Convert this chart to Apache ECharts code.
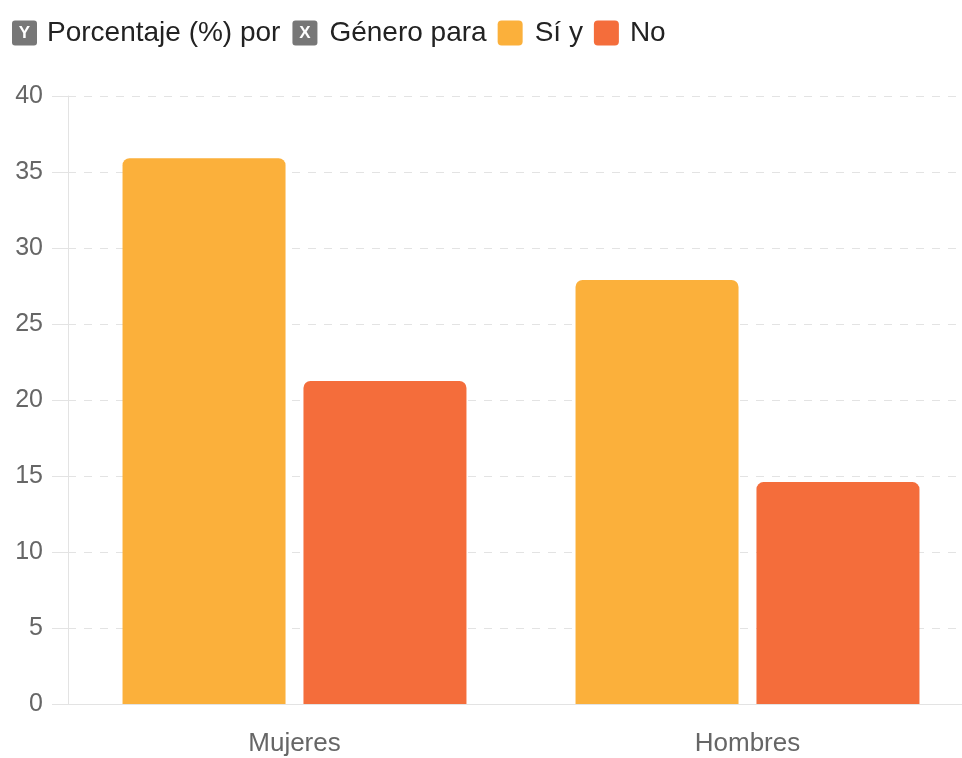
<!DOCTYPE html>
<html><head><meta charset="utf-8">
<script src="https://cdn.jsdelivr.net/npm/echarts@6/dist/echarts.min.js"></script>
<style>html,body{margin:0;padding:0;background:#fff;overflow:hidden;width:962px;height:758px}#c{width:974px;height:758px}</style>
</head><body><div id="c"></div>
<script>
const categories = ['Mujeres', 'Hombres'];
const siValues = [35.9, 27.9];
const noValues = [21.25, 14.6];
const seriesNames = ['Sí', 'No'];

const chart = echarts.init(document.getElementById('c'));
const font = '"Liberation Sans", Arial, sans-serif';
const badge = {backgroundColor: '#777', color: '#fff', fontSize: 17, fontWeight: 'bold', width: 25, height: 25, align: 'center', borderRadius: 3, lineHeight: 25, fontFamily: font};
chart.setOption({
  animation: false,
  title: {
    left: 7, top: 14,
    text: '{yb|Y}{sp0|}{t|Porcentaje (%) por}{sp|}{xb|X}{sp|}{t|Género para}{sp2|}{s|}{sp|}{t|Sí y}{sp2|}{n|}{sp2|}{t|No}',
    textStyle: {
      fontFamily: font, fontWeight: 'normal', fontSize: 28,
      rich: {
        t: {fontSize: 28, color: '#222', fontFamily: font, fontWeight: 'normal'},
        sp0: {width: 10},
        sp: {width: 12},
        sp2: {width: 11},
        yb: badge,
        xb: badge,
        s: {backgroundColor: '#FBB03B', width: 25, height: 25, borderRadius: 4},
        n: {backgroundColor: '#F46D3B', width: 25, height: 25, borderRadius: 4}
      }
    }
  },
  grid: {left: 68, right: 0, top: 96, bottom: 54},
  xAxis: {
    type: 'category', data: categories,
    axisLine: {lineStyle: {color: '#e3e3e3'}},
    axisTick: {show: false},
    axisLabel: {color: '#666', fontSize: 26, fontFamily: font, margin: 27}
  },
  yAxis: {
    type: 'value', min: 0, max: 40, interval: 5,
    axisLine: {show: true, lineStyle: {color: '#e3e3e3'}},
    axisTick: {show: true, length: 16, lineStyle: {color: '#e3e3e3'}},
    axisLabel: {color: '#666', fontSize: 25, fontFamily: font, margin: 25},
    splitLine: {lineStyle: {color: '#e3e3e3', type: [8, 8]}}
  },
  series: [
    {name: seriesNames[0], type: 'bar', data: siValues, barWidth: 163, barGap: '11%',
     itemStyle: {color: '#FBB03B', borderRadius: [7, 7, 0, 0]}},
    {name: seriesNames[1], type: 'bar', data: noValues, barWidth: 163, barGap: '11%',
     itemStyle: {color: '#F46D3B', borderRadius: [7, 7, 0, 0]}}
  ]
});
</script></body></html>
